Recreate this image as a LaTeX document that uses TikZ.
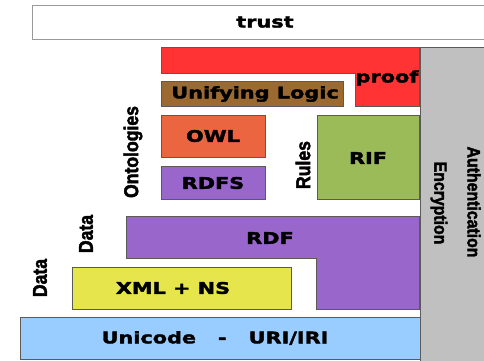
\documentclass[tikz,border=0pt]{standalone}
\usepackage{fontspec}
\newfontfamily\boxfont{DejaVu Sans}[FakeStretch=1.3, BoldFeatures={FakeBold=2.2}]
\newfontfamily\sidefont{Liberation Sans}[FakeStretch=0.88, BoldFeatures={FakeBold=2.2}]
\definecolor{cproof}{HTML}{FF3333}
\definecolor{clogic}{HTML}{9C6A30}
\definecolor{cowl}{HTML}{EB6540}
\definecolor{cpurple}{HTML}{9966CC}
\definecolor{crif}{HTML}{9BBB59}
\definecolor{cxml}{HTML}{E6E64C}
\definecolor{cuni}{HTML}{99CCFF}
\definecolor{cgray}{HTML}{C0C0C0}
\definecolor{cedge}{HTML}{5A5A5A}
\tikzset{
  layer/.style={draw=cedge, line width=0.8pt},
  boxlbl/.style={font=\boxfont\bfseries\fontsize{16}{18}\selectfont, inner sep=0pt, text=black},
  sidelbl/.style={font=\sidefont\bfseries\fontsize{20}{22}\selectfont, inner sep=0pt, text=black, rotate=90},
  seclbl/.style={font=\sidefont\bfseries\fontsize{18}{20}\selectfont, inner sep=0pt, text=black, rotate=-90},
}
\begin{document}
\begin{tikzpicture}[x=1pt, y=-1pt]
\useasboundingbox (0,0) rectangle (484,360);
\fill[white] (0,0) rectangle (484,360);
% trust
\draw[draw=gray!80, line width=0.8pt, fill=white] (32,5) rectangle (492,39);
\node[boxlbl] (trust) at (265,22) {trust};
% security column
\draw[layer, fill=cgray] (420,47) rectangle (492,364);
\node[seclbl] (auth) at (474,202) {Authentication};
\node[seclbl] (enc) at (439,203) {Encryption};
% proof
\draw[layer, fill=cproof] (161,47) -- (419,47) -- (419,106) -- (355,106) -- (355,73) -- (161,73) -- cycle;
\node[boxlbl] (proof) at (387,78) {proof};
% unifying logic
\draw[layer, fill=clogic] (161,81) rectangle (343,106);
\node[boxlbl] (logic) at (255,94) {Unifying Logic};
% OWL, RDFS
\draw[layer, fill=cowl] (161,115) rectangle (265,157);
\node[boxlbl] (owl) at (213,136) {OWL};
\draw[layer, fill=cpurple] (161,166) rectangle (265,199);
\node[boxlbl] (rdfs) at (213,183) {RDFS};
% RIF
\draw[layer, fill=crif] (317,115) rectangle (419,199);
\node[boxlbl] (rif) at (368,158) {RIF};
% RDF
\draw[layer, fill=cpurple] (126,216) -- (419,216) -- (419,309) -- (316,309) -- (316,258) -- (126,258) -- cycle;
\node[boxlbl] (rdf) at (270,238) {RDF};
% XML
\draw[layer, fill=cxml] (72,267) rectangle (291,309);
\node[boxlbl] (xml) at (173,288) {XML + NS};
% Unicode
\draw[layer, fill=cuni] (20,317) rectangle (420,359);
\node[boxlbl] (uni) at (215,338) {Unicode\hspace{22pt}-\hspace{22pt}URI/IRI};
% side labels
\node[sidelbl] (onto) at (133,152) {Ontologies};
\node[sidelbl] (rules) at (303,165) {Rules};
\node[sidelbl] (data1) at (86,234) {Data};
\node[sidelbl] (data2) at (40,278) {Data};
\end{tikzpicture}
\end{document}
